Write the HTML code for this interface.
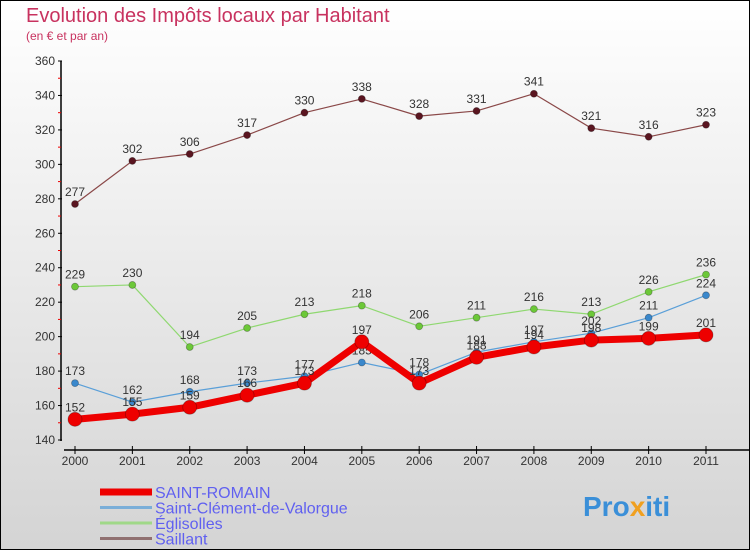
<!DOCTYPE html>
<html><head><meta charset="utf-8"><style>
body{margin:0;}
#c{width:750px;height:550px;position:relative;overflow:hidden;}
svg{display:block;font-family:"Liberation Sans",sans-serif;}
</style></head><body>
<div id="c">
<svg id="s" width="750" height="550">
<defs><linearGradient id="bg" x1="0" y1="0" x2="0" y2="1"><stop offset="0" stop-color="#ffffff"/><stop offset="1" stop-color="#d4d4d4"/></linearGradient></defs>
<rect x="0.5" y="0.5" width="749" height="549" fill="url(#bg)" stroke="#000"/>
<text x="26" y="22" font-size="20" fill="#c8325f">Evolution des Impôts locaux par Habitant</text>
<text x="26" y="40" font-size="12" fill="#c8325f">(en € et par an)</text>
<g id="axes"></g>
<g id="series"></g>
<g id="legend"></g>
<text x="583" y="516" font-size="28" font-weight="bold" fill="#3a8fd8">Pro<tspan fill="#f0a020">x</tspan>iti</text>
</svg>
</div>
<script>
const years=["2000","2001","2002","2003","2004","2005","2006","2007","2008","2009","2010","2011"];
const yTicks=[140,160,180,200,220,240,260,280,300,320,340,360];
const saintRomain=[152,155,159,166,173,197,173,188,194,198,199,201];
const saintClement=[173,162,168,173,177,185,178,191,197,202,211,224];
const eglisolles=[229,230,194,205,213,218,206,211,216,213,226,236];
const saillant=[277,302,306,317,330,338,328,331,341,321,316,323];
const seriesNames=["SAINT-ROMAIN","Saint-Clément-de-Valorgue","Églisolles","Saillant"];
const NS="http://www.w3.org/2000/svg";
function X(i){return 75+i*(706-75)/11;}
function Y(v){return 440-(v-140)*(440-61)/220;}
function mk(tag,attrs,parent){const e=document.createElementNS(NS,tag);for(const k in attrs)e.setAttribute(k,attrs[k]);parent.appendChild(e);return e;}
const ax=document.getElementById('axes');
let l=mk('line',{x1:61,y1:61,x2:61,y2:441,stroke:'#000','stroke-width':1.5},ax);


l=mk('line',{x1:64,y1:450,x2:750,y2:450,stroke:'#000','stroke-width':1.5},ax);


yTicks.forEach((v,i)=>{
 const y=Y(v);
 mk('line',{x1:58,y1:y,x2:62,y2:y,stroke:'#000'},ax);
 if(i<yTicks.length-1) mk('line',{x1:58,y1:Y(v+10),x2:61,y2:Y(v+10),stroke:'#e00'},ax);
 const t=mk('text',{x:55,y:y+4,'font-size':12,fill:'#333','text-anchor':'end'},ax);
 t.textContent=v;
 
 
});
years.forEach((yr,i)=>{
 const x=X(i);
 mk('line',{x1:x,y1:446,x2:x,y2:454,stroke:'#000'},ax);
 const t=mk('text',{x:x,y:465,'font-size':12,fill:'#333','text-anchor':'middle'},ax);
 t.textContent=yr;
 
 
});
const sg=document.getElementById('series');
const specs=[
 {d:saillant,c:'#8a4848',p:'#5a1520',w:1.2,r:3.5,n:'saillant'},
 {d:eglisolles,c:'#8fd870',p:'#6cc838',w:1.2,r:3.5,n:'eglisolles'},
 {d:saintClement,c:'#5a9fd8',p:'#3a88cc',w:1.2,r:3.5,n:'saint-clement'},
 {d:saintRomain,c:'#ee0000',p:'#ee0000',w:7,r:7,n:'saint-romain'}
];
specs.forEach(s=>{
 const g=mk('g',{},sg);
 
 
 const pl=mk('polyline',{points:s.d.map((v,i)=>X(i)+','+Y(v)).join(' '),fill:'none',stroke:s.c,'stroke-width':s.w,'stroke-linejoin':'round'},g);
 
 
 s.d.forEach((v,i)=>{
  const c=mk('circle',{cx:X(i),cy:Y(v),r:s.r,fill:s.p,stroke:'rgba(0,0,0,0.3)','stroke-width':0.8},g);
  
  
  const t=mk('text',{x:X(i),y:Y(v)-8,'font-size':12,fill:'#333','text-anchor':'middle'},g);
  t.textContent=v;
  
  
 });
});
const lg=document.getElementById('legend');
const lc=['#ee0000','#7aaed8','#a0d888','#907070'];
const lw=[7,3,3,3];
seriesNames.forEach((n,i)=>{
 const y=492+i*15.5;
 const ln=mk('line',{x1:100,y1:y,x2:152,y2:y,stroke:lc[i],'stroke-width':lw[i]},lg);
 
 
 const t=mk('text',{x:155,y:y+6,'font-size':16,fill:'#6060f0'},lg);
 t.textContent=n;
 
 
});
</script>
</body></html>
